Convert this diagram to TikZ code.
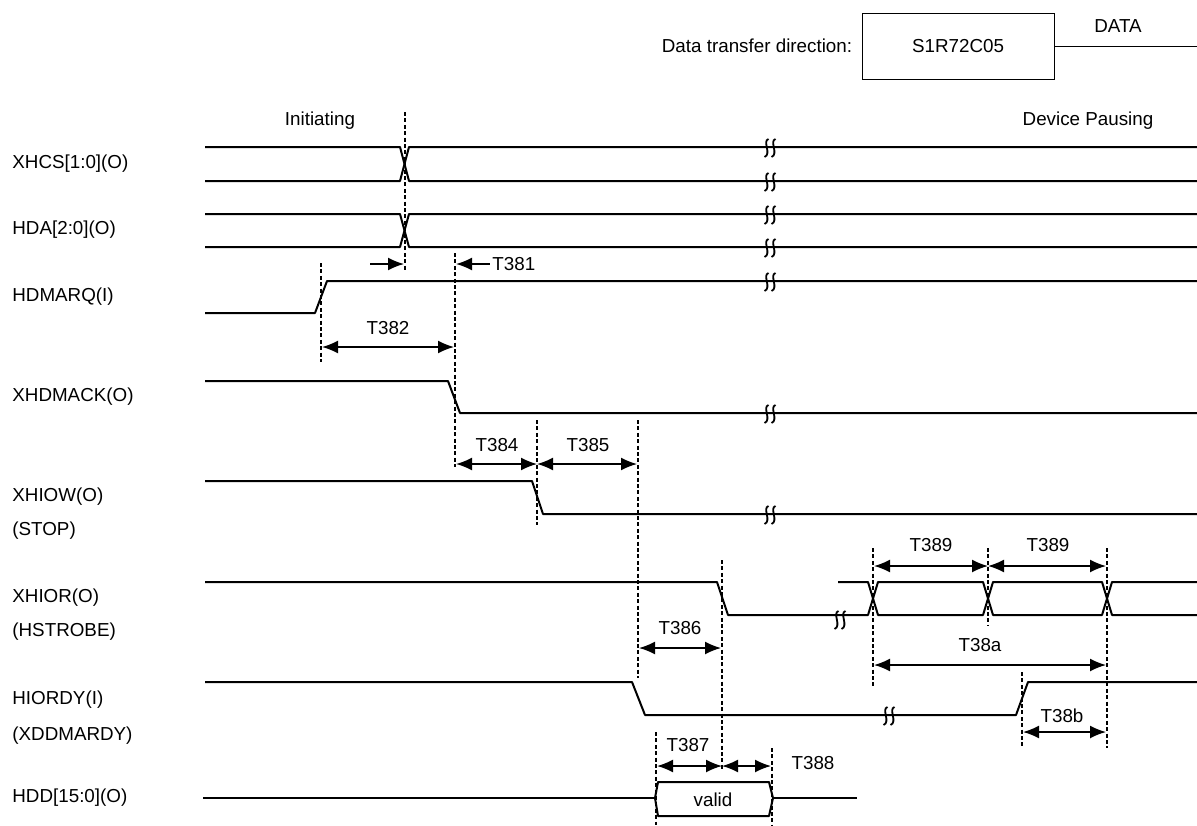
\documentclass[tikz,border=0pt]{standalone}
\usepackage{fontspec}
\setmainfont{Liberation Sans}
\usetikzlibrary{arrows.meta, positioning}
\tikzset{
  timing/.style={
	x=0.5pt, y=-0.5pt, % one unit is one pixel of the sheet, y runs down
	every node/.style={font=\fontsize{9.4}{11}\selectfont, inner sep=0pt},
  },
  sig/.style={line width=1pt, line join=round}, % the signal waves
  guide/.style={line width=0.7pt, dash pattern=on 2pt off 1.2pt}, % dashed time marks
  dim/.style={<->, >={Latex[length=8pt,width=6.5pt]}, line width=0.8pt}, % timing arrows
  squig/.style={line width=0.9pt}, % the break marks
  sname/.style={anchor=west}, % signal names on the left
}
% break mark on a wave at (x,y)
\newcommand{\brkmark}[2]{%
  \draw[squig] (#1-1.5,#2-8) .. controls (#1-8,#2-6) and (#1+2,#2+7) .. (#1-5.5,#2+10);
  \draw[squig] (#1+5.5,#2-8) .. controls (#1-1,#2-6) and (#1+9,#2+7) .. (#1+1.5,#2+10);
}

\begin{document}
\begin{tikzpicture}[timing]
\useasboundingbox (0,0) rectangle (1197,825);

% direction
\node (dir) at (757,46) {Data transfer direction:};
\draw (862,13) rectangle (1054,79);
\node (chip) at (958,46) {S1R72C05};
\draw (1054,46) -- (1197,46);
\node (data) at (1118,26) {DATA};
\node (init) at (320,121) {Initiating};
\node (pause) at (1088,121) {Device Pausing};

% signal names
\node[sname] (xhcs) at (12,164) {XHCS[1:0](O)};
\node[sname] (hda) at (12,230) {HDA[2:0](O)};
\node[sname] (hdmarq) at (12,297) {HDMARQ(I)};
\node[sname] (xhdmack) at (12,397) {XHDMACK(O)};
\node[sname] (xhiow) at (12,497) {XHIOW(O)};
\node[sname, below=17pt of xhiow.west, anchor=west] (stop) {(STOP)};
\node[sname] (xhior) at (12,598) {XHIOR(O)};
\node[sname, below=17pt of xhior.west, anchor=west] (hstrobe) {(HSTROBE)};
\node[sname] (hiordy) at (12,700) {HIORDY(I)};
\node[sname, below=18pt of hiordy.west, anchor=west] (xddmardy) {(XDDMARDY)};
\node[sname] (hdd) at (12,798) {HDD[15:0](O)};

% waves
\draw[sig] (205,147) -- (400,147) -- (409,181) -- (1197,181);
\draw[sig] (205,181) -- (400,181) -- (409,147) -- (1197,147);
\draw[sig] (205,214) -- (400,214) -- (409,247) -- (1197,247);
\draw[sig] (205,247) -- (400,247) -- (409,214) -- (1197,214);
\draw[sig] (205,313) -- (315,313) -- (327,281) -- (1197,281);
\draw[sig] (205,381) -- (448,381) -- (460,413) -- (1197,413);
\draw[sig] (205,481) -- (532,481) -- (543,514) -- (1197,514);
\draw[sig] (205,582) -- (717,582) -- (728,615) -- (868,615) -- (878,582) -- (983,582)
  -- (993,615) -- (1102,615) -- (1112,582) -- (1197,582);
\draw[sig] (838,582) -- (868,582) -- (878,615) -- (983,615) -- (993,582) -- (1102,582)
  -- (1112,615) -- (1197,615);
\draw[sig] (205,682) -- (632,682) -- (645,715) -- (1016,715) -- (1028,682) -- (1197,682);
\draw[sig] (203,798) -- (655,798);
\draw[sig] (655,798) -- (658,782) -- (769,782) -- (773,798) -- (769,816) -- (658,816) -- cycle;
\draw[sig] (773,798) -- (857,798);
\node (valid) at (713,800) {valid};

% breaks
\foreach \y in {147,181,214,247,281,413,514} {\brkmark{770}{\y}}
\brkmark{889}{715}
\brkmark{840}{619}

% dashed time marks
\draw[guide] (405,112) -- (405,270);
\draw[guide] (321,263) -- (321,362);
\draw[guide] (455,253) -- (455,467);
\draw[guide] (537,420) -- (537,525);
\draw[guide] (638,420) -- (638,678);
\draw[guide] (722,560) -- (722,770);
\draw[guide] (656,732) -- (656,825);
\draw[guide] (772,748) -- (772,825);
\draw[guide] (873,548) -- (873,687);
\draw[guide] (988,548) -- (988,625);
\draw[guide] (1107,548) -- (1107,748);
\draw[guide] (1022,672) -- (1022,748);

% timings
\draw[dim, <-] (404,264) -- (370,264);
\draw[dim, <-] (456,264) -- (490,264);
\node[anchor=west] (t381) at (492,264) {T381};
\draw[dim] (322,347) -- (454,347);
\node (t382) at (388,328) {T382};
\draw[dim] (456,464) -- (537,464);
\node (t384) at (497,445) {T384};
\draw[dim] (537,464) -- (637,464);
\node (t385) at (588,445) {T385};
\draw[dim] (639,648) -- (721,648);
\node (t386) at (680,628) {T386};
\draw[dim] (657,766) -- (722,766);
\node (t387) at (688,745) {T387};
\draw[dim] (722,766) -- (771,766);
\node (t388) at (813,763) {T388};
\draw[dim] (874,566) -- (988,566);
\node (t389a) at (931,545) {T389};
\draw[dim] (988,566) -- (1106,566);
\node (t389b) at (1048,545) {T389};
\draw[dim] (874,665) -- (1106,665);
\node (t38a) at (980,645) {T38a};
\draw[dim] (1023,732) -- (1106,732);
\node (t38b) at (1062,716) {T38b};
\end{tikzpicture}
\end{document}
